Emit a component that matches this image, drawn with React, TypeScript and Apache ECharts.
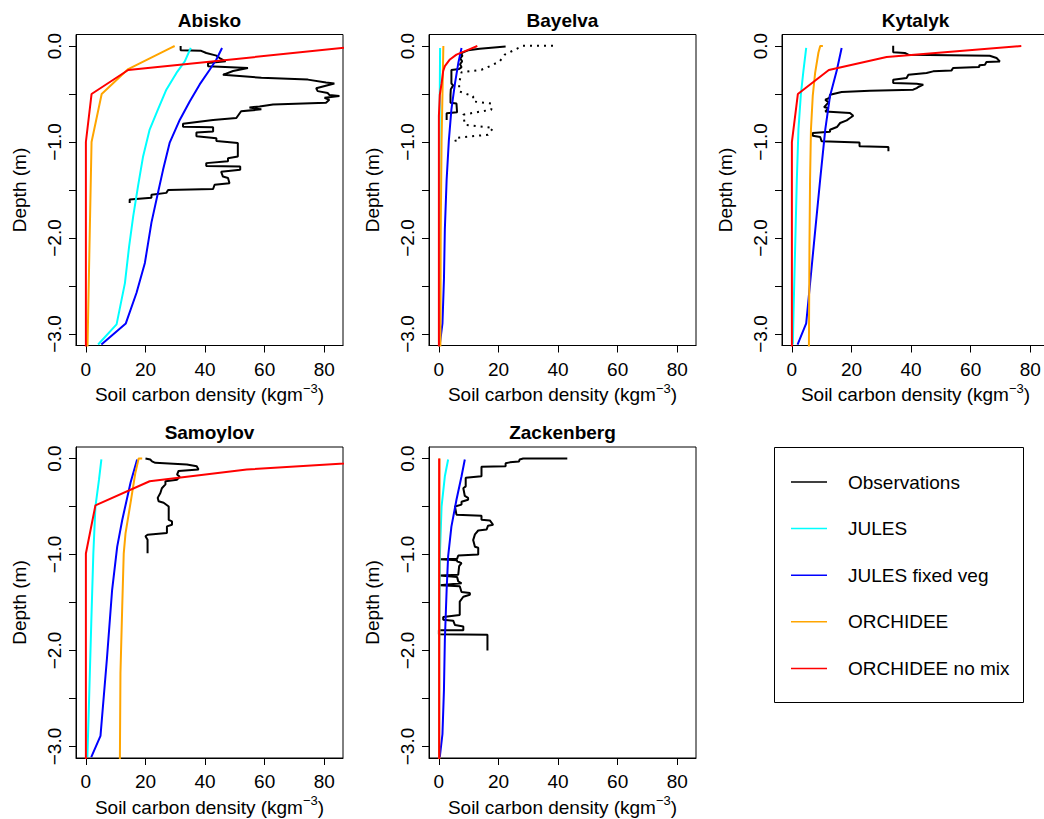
import React, { useEffect, useRef } from 'react';
import * as echarts from 'echarts';

type P = [number, number][];

const SITES = ['Abisko', 'Bayelva', 'Kytalyk', 'Samoylov', 'Zackenberg'];
const SERIES_NAMES = ['Observations', 'JULES', 'JULES fixed veg', 'ORCHIDEE', 'ORCHIDEE no mix'];
const SERIES_COLORS = ['#000000', '#00FFFF', '#0000FF', '#FFA500', '#FF0000'];
const X_TICKS = [0, 20, 40, 60, 80];
const Y_TICKS = [0, -0.5, -1, -1.5, -2, -2.5, -3];
const Y_LABELS = [0, -1, -2, -3];
const X_LIMITS = [-3.32, 86.3];
const Y_LIMITS = [-3.12, 0.12];
const X_TITLE = 'Soil carbon density (kgm{sup|\u22123})';
const Y_TITLE = 'Depth (m)';

// ---------- Abisko ----------
const abiskoObs: P = [[31.8, 0.0], [31.8, -0.045], [38.7, -0.05], [40.4, -0.073], [43.8, -0.1], [44.9, -0.125], [46.9, -0.16], [41.0, -0.177], [41.0, -0.21], [54.4, -0.23], [49.4, -0.26], [46.0, -0.3], [58.9, -0.33], [74.5, -0.35], [80.6, -0.38], [83.4, -0.39], [77.3, -0.44], [77.8, -0.47], [81.2, -0.49], [81.7, -0.51], [85.1, -0.52], [80.1, -0.54], [81.7, -0.56], [80.6, -0.59], [62.8, -0.61], [58.3, -0.63], [54.9, -0.64], [58.9, -0.66], [52.1, -0.68], [50.5, -0.75], [42.7, -0.77], [32.6, -0.81], [32.6, -0.84], [42.7, -0.845], [42.7, -0.89], [37.1, -0.9], [37.1, -0.94], [43.8, -0.96], [43.8, -0.99], [51.0, -1.01], [51.0, -1.15], [47.7, -1.17], [47.7, -1.2], [40.4, -1.22], [40.4, -1.25], [51.8, -1.255], [51.8, -1.29], [45.4, -1.31], [46.0, -1.36], [47.7, -1.375], [48.2, -1.43], [43.2, -1.445], [42.7, -1.49], [27.6, -1.5], [27.0, -1.53], [22.0, -1.55], [22.0, -1.58], [14.7, -1.6], [14.7, -1.635]];
const abiskoJules: P = [[35.2, -0.02], [33.2, -0.16], [30.4, -0.28], [27.0, -0.455], [24.2, -0.66], [21.4, -0.87], [19.2, -1.15], [17.5, -1.46], [15.9, -1.77], [14.5, -2.09], [13.1, -2.47], [10.3, -2.9], [4.1, -3.11]];
const abiskoJulesFixed: P = [[45.7, -0.02], [43.8, -0.14], [41.5, -0.25], [38.2, -0.4], [34.8, -0.58], [31.5, -0.77], [28.1, -1.01], [25.9, -1.29], [23.9, -1.57], [22.0, -1.84], [19.8, -2.26], [17.0, -2.57], [13.4, -2.89], [5.2, -3.11]];
const abiskoOrchidee: P = [[29.8, 0.0], [28.5, -0.02], [14.2, -0.24], [5.3, -0.5], [1.9, -1.0], [0.5, -3.2]];
const abiskoOrchideeNoMix: P = [[92.6, 0.0], [14.2, -0.25], [1.9, -0.5], [0.0, -1.0], [0.0, -3.2]];

// ---------- Bayelva ----------
const bayelvaObs: P = [[22.4, -0.005], [13.7, -0.028], [9.8, -0.045], [8.1, -0.066], [7.4, -0.08], [7.9, -0.1], [7.2, -0.13], [7.8, -0.16], [7.1, -0.19], [7.6, -0.22], [6.8, -0.24], [4.2, -0.25], [4.2, -0.39], [4.8, -0.41], [4.0, -0.45], [3.9, -0.51], [3.9, -0.59], [5.9, -0.6], [6.1, -0.69], [2.6, -0.7], [2.6, -0.77]];
const bayelvaObs2: P = [[38.3, 0.003], [28.2, 0.003], [22.1, -0.09], [20.4, -0.16], [17.1, -0.21], [14.3, -0.247], [7.6, -0.274], [6.8, -0.386], [6.8, -0.472], [11.5, -0.524], [11.5, -0.577], [17.6, -0.6], [17.6, -0.663], [8.2, -0.715], [8.7, -0.82], [18.2, -0.854], [16.5, -0.924], [5.4, -0.958], [5.9, -1.028]];
const bayelvaJules: P = [[0.4, -0.02], [0.3, -0.5], [0.2, -1.0], [0.1, -3.2]];
const bayelvaJulesFixed: P = [[7.6, -0.02], [6.5, -0.18], [5.4, -0.39], [4.2, -0.66], [3.35, -0.98], [2.6, -1.39], [2.0, -1.91], [1.7, -2.43], [1.2, -2.89], [0.3, -3.11]];
const bayelvaOrchidee: P = [[1.5, 0.0], [1.2, -0.5], [0.9, -1.0], [0.6, -2.0], [0.5, -3.2]];
const bayelvaOrchideeNoMix: P = [[12.9, 0.0], [9.8, -0.04], [5.9, -0.09], [3.7, -0.14], [2.0, -0.21], [1.45, -0.26], [0.9, -0.39], [0.3, -0.51], [0.0, -0.73], [0.0, -3.2]];

// ---------- Kytalyk ----------
const kytalykObs: P = [[34.0, 0.003], [34.0, -0.066], [37.9, -0.073], [39.1, -0.09], [66.4, -0.101], [68.7, -0.125], [69.8, -0.16], [65.3, -0.167], [64.8, -0.195], [62.9, -0.2], [62.9, -0.219], [54.1, -0.229], [53.6, -0.254], [47.4, -0.264], [45.2, -0.281], [39.1, -0.299], [38.5, -0.333], [34.0, -0.351], [34.0, -0.386], [41.9, -0.393], [44.1, -0.403], [42.4, -0.427], [41.9, -0.438], [40.7, -0.455], [26.2, -0.465], [16.7, -0.479], [12.8, -0.507], [12.6, -0.542], [11.2, -0.559], [12.3, -0.587], [10.8, -0.636], [12.3, -0.649], [11.2, -0.681], [19.5, -0.698], [20.6, -0.726], [19.5, -0.75], [18.4, -0.774], [16.2, -0.802], [15.1, -0.844], [12.8, -0.872], [12.8, -0.892], [7.0, -0.906], [7.0, -0.934], [9.5, -0.948], [10.0, -0.993], [22.7, -1.004], [22.7, -1.045], [32.4, -1.052], [32.4, -1.097]];
const kytalykJules: P = [[4.8, -0.02], [3.9, -0.25], [3.0, -0.51], [2.2, -0.87], [1.66, -1.39], [1.1, -2.09], [0.55, -2.78], [0.32, -3.11]];
const kytalykJulesFixed: P = [[16.7, -0.02], [15.1, -0.25], [12.8, -0.52], [11.2, -0.87], [9.5, -1.39], [7.3, -2.09], [4.8, -2.89], [1.9, -3.11]];
const kytalykOrchidee: P = [[10.4, 0.0], [9.5, 0.0], [8.9, -0.07], [7.8, -0.28], [7.0, -0.52], [6.4, -0.87], [6.1, -1.39], [5.9, -2.09], [5.7, -3.2]];
const kytalykOrchideeNoMix: P = [[77.0, 0.0], [31.8, -0.115], [12.4, -0.25], [2.0, -0.5], [0.0, -1.0], [0.0, -3.2]];

// ---------- Samoylov ----------
const samoylovObs: P = [[20.0, 0.0], [21.6, -0.01], [22.2, -0.03], [23.3, -0.045], [33.9, -0.063], [37.2, -0.08], [37.8, -0.115], [31.1, -0.13], [30.6, -0.167], [31.5, -0.19], [30.6, -0.22], [26.7, -0.237], [26.7, -0.27], [25.5, -0.31], [25.0, -0.36], [24.1, -0.41], [24.4, -0.446], [26.1, -0.46], [27.8, -0.5], [27.8, -0.64], [28.9, -0.655], [28.9, -0.69], [27.2, -0.707], [27.2, -0.777], [20.7, -0.794], [20.0, -0.81], [20.7, -0.847], [20.7, -0.986]];
const samoylovJules: P = [[5.2, -0.01], [4.4, -0.22], [3.2, -0.5], [2.5, -0.99], [1.8, -1.72], [1.0, -2.59], [0.5, -3.11]];
const samoylovJulesFixed: P = [[17.2, -0.01], [15.0, -0.25], [12.2, -0.64], [10.5, -0.92], [8.8, -1.37], [7.1, -2.07], [4.9, -2.89], [1.8, -3.11]];
const samoylovOrchidee: P = [[18.9, 0.0], [17.7, 0.0], [16.6, -0.15], [15.0, -0.46], [13.3, -0.78], [12.7, -0.99], [12.2, -1.54], [11.6, -2.24], [11.4, -3.2]];
const samoylovOrchideeNoMix: P = [[113.0, 0.0], [54.0, -0.115], [21.4, -0.237], [3.2, -0.488], [0.0, -0.99], [0.0, -3.2]];

// ---------- Zackenberg ----------
const zackenbergObs: P = [[43.1, 0.0], [28.3, 0.0], [27.1, -0.01], [26.9, -0.03], [23.8, -0.04], [22.4, -0.05], [22.4, -0.08], [14.3, -0.087], [14.3, -0.185], [9.0, -0.2], [9.0, -0.29], [8.2, -0.31], [8.7, -0.39], [9.8, -0.41], [9.8, -0.43], [7.6, -0.45], [7.6, -0.48], [5.4, -0.5], [5.9, -0.585], [14.3, -0.596], [14.3, -0.638], [17.1, -0.645], [18.2, -0.69], [16.5, -0.7], [16.0, -0.74], [13.2, -0.75], [12.1, -0.79], [11.5, -0.85], [12.1, -0.92], [13.2, -0.93], [13.2, -1.0], [6.5, -1.01], [6.1, -1.045], [0.3, -1.05], [6.1, -1.06], [6.1, -1.07], [7.6, -1.09], [6.8, -1.12], [6.5, -1.21], [0.3, -1.22], [6.1, -1.235], [6.5, -1.28], [7.6, -1.3], [0.3, -1.32], [7.0, -1.33], [7.6, -1.39], [10.4, -1.4], [10.4, -1.42], [8.2, -1.44], [7.0, -1.49], [7.0, -1.63], [1.45, -1.65], [1.45, -1.68], [4.8, -1.69], [5.4, -1.735], [8.2, -1.75], [8.2, -1.79], [0.0, -1.79], [0.0, -1.83], [16.3, -1.836], [16.3, -2.0]];
const zackenbergJules: P = [[3.1, -0.01], [2.0, -0.185], [0.9, -0.5], [0.35, -0.99], [0.1, -2.0], [0.05, -3.2]];
const zackenbergJulesFixed: P = [[8.7, -0.01], [7.6, -0.185], [5.9, -0.43], [4.2, -0.71], [3.1, -1.02], [2.6, -1.37], [2.0, -1.89], [1.7, -2.41], [1.2, -2.87], [0.3, -3.11]];
const zackenbergOrchidee: P = [[0.2, 0.0], [0.1, -1.0], [0.1, -3.2]];
const zackenbergOrchideeNoMix: P = [[0.1, 0.0], [0.1, -1.0], [0.1, -3.2]];

const SITE_OBS: P[] = [abiskoObs, bayelvaObs, kytalykObs, samoylovObs, zackenbergObs];
const SITE_EXTRA_OBS: (P | null)[] = [null, bayelvaObs2, null, null, null];
const SITE_MODELS: P[][] = [
  [abiskoJules, abiskoJulesFixed, abiskoOrchidee, abiskoOrchideeNoMix],
  [bayelvaJules, bayelvaJulesFixed, bayelvaOrchidee, bayelvaOrchideeNoMix],
  [kytalykJules, kytalykJulesFixed, kytalykOrchidee, kytalykOrchideeNoMix],
  [samoylovJules, samoylovJulesFixed, samoylovOrchidee, samoylovOrchideeNoMix],
  [zackenbergJules, zackenbergJulesFixed, zackenbergOrchidee, zackenbergOrchideeNoMix],
];

// layout (pixels)
const GRID_POS: [number, number][] = [[76, 34.5], [429, 34.5], [782, 34.5], [76, 447], [429, 447]];
const GRID_W = 267;
const GRID_H = 311;
const FONT = '"Liberation Sans", Arial, Helvetica, sans-serif';

function buildOption() {
  const grid = GRID_POS.map(([l, t]) => ({
    left: l, top: t, width: GRID_W, height: GRID_H,
    show: true, borderColor: '#000', borderWidth: 1, backgroundColor: 'transparent',
    containLabel: false, outerBoundsMode: 'none',
  }));
  const xAxis = GRID_POS.map((_, i) => ({
    type: 'value', gridIndex: i, min: X_LIMITS[0], max: X_LIMITS[1],
    axisLine: { show: true, onZero: false, lineStyle: { color: '#000', width: 1 } },
    axisTick: { show: true, inside: false, length: 7, customValues: X_TICKS, lineStyle: { color: '#000', width: 1 } },
    axisLabel: { show: true, customValues: X_TICKS, margin: 14, fontSize: 19, color: '#000', fontFamily: FONT },
    splitLine: { show: false },
    name: X_TITLE, nameLocation: 'middle', nameGap: 36, nameMoveOverlap: false,
    nameTextStyle: {
      fontSize: 19, color: '#000', fontFamily: FONT, lineHeight: 26,
      rich: { sup: { fontSize: 13, lineHeight: 13, verticalAlign: 'top', color: '#000', fontFamily: FONT } },
    },
  }));
  const yAxis = GRID_POS.map((_, i) => ({
    type: 'value', gridIndex: i, min: Y_LIMITS[0], max: Y_LIMITS[1],
    axisLine: { show: true, onZero: false, lineStyle: { color: '#000', width: 1 } },
    axisTick: { show: true, inside: false, length: 7, customValues: Y_TICKS, lineStyle: { color: '#000', width: 1 } },
    axisLabel: {
      show: true, customValues: Y_LABELS, rotate: 90, margin: 12, fontSize: 19, color: '#000', fontFamily: FONT,
      formatter: (v: number) => (Math.abs(v) < 1e-9 ? '0.0' : '\u2212' + Math.abs(v).toFixed(1)),
    },
    splitLine: { show: false },
    name: Y_TITLE, nameLocation: 'middle', nameGap: 47, nameMoveOverlap: false,
    nameTextStyle: { fontSize: 19, color: '#000', fontFamily: FONT },
  }));
  const title = SITES.map((s, i) => ({
    text: s, left: GRID_POS[i][0] + GRID_W / 2, top: GRID_POS[i][1] - 24,
    textAlign: 'center', textVerticalAlign: 'top', padding: 0,
    textStyle: { fontSize: 19, fontWeight: 'bold', color: '#000', fontFamily: FONT },
  }));
  const series: any[] = [];
  SITES.forEach((s, i) => {
    const base = { type: 'line', xAxisIndex: i, yAxisIndex: i, symbol: 'none', showSymbol: false, clip: true, silent: true, animation: false };
    series.push({ ...base, name: SERIES_NAMES[0], data: SITE_OBS[i], lineStyle: { color: SERIES_COLORS[0], width: 2 }, itemStyle: { color: SERIES_COLORS[0] } });
    const extra = SITE_EXTRA_OBS[i];
    if (extra) {
      series.push({ ...base, name: SERIES_NAMES[0] + ' (2)', data: extra, lineStyle: { color: '#000', width: 2, type: [2, 5] }, itemStyle: { color: '#000' } });
    }
    SITE_MODELS[i].forEach((d, k) => {
      series.push({ ...base, name: SERIES_NAMES[k + 1], data: d, lineStyle: { color: SERIES_COLORS[k + 1], width: 2 }, itemStyle: { color: SERIES_COLORS[k + 1] } });
    });
  });
  const LEG_X = 774.5, LEG_Y = 447.5, LEG_W = 249, LEG_H = 255;
  const LEG_FIRST = 482, LEG_STEP = 46.6;
  const graphic: any[] = [
    { type: 'rect', shape: { x: LEG_X, y: LEG_Y, width: LEG_W, height: LEG_H }, style: { fill: '#fff', stroke: '#000', lineWidth: 1 }, silent: true },
  ];
  SERIES_NAMES.forEach((n, i) => {
    const y = LEG_FIRST + i * LEG_STEP;
    graphic.push({ type: 'line', shape: { x1: 791, y1: y, x2: 827, y2: y }, style: { stroke: SERIES_COLORS[i], lineWidth: 1.5 }, silent: true });
    graphic.push({ type: 'text', x: 848, y, style: { text: n, fontSize: 19, fontFamily: FONT, fill: '#000', verticalAlign: 'middle', align: 'left' }, silent: true });
  });
  return { animation: false, backgroundColor: '#fff', title, grid, xAxis, yAxis, series, graphic };
}

export default function App() {
  const ref = useRef<HTMLDivElement>(null);
  useEffect(() => {
    document.body.style.margin = '0';
    if (!ref.current) return;
    const chart = echarts.init(ref.current, undefined, { renderer: 'svg' });
    chart.setOption(buildOption() as any);
    return () => chart.dispose();
  }, []);
  return <div ref={ref} style={{ position: 'absolute', left: 0, top: 0, width: 1044, height: 819, background: '#fff' }} />;
}
